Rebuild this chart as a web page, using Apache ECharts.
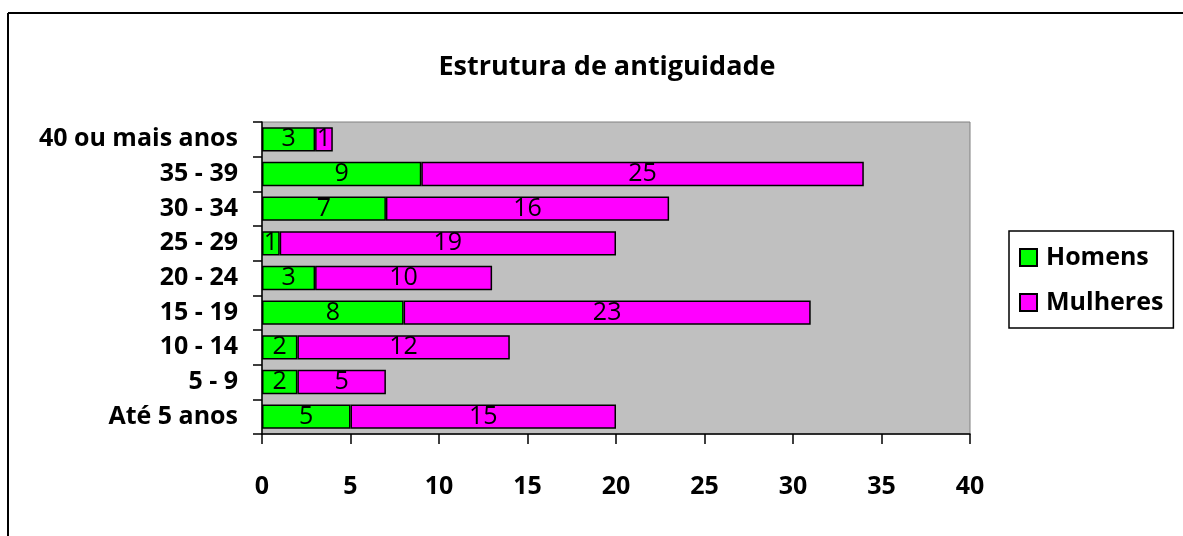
<!DOCTYPE html>
<html>
<head>
<meta charset="utf-8">
<script src="https://cdn.jsdelivr.net/npm/echarts@6/dist/echarts.min.js"></script>
<style>
    html, body { margin: 0; padding: 0; background: #fff; }
    #chart { width: 1183px; height: 536px; }
</style>
</head>
<body>
<div id="chart"></div>
<script>
    // faixas de antiguidade, de baixo para cima
    var categorias = ['Até 5 anos', '5 - 9', '10 - 14', '15 - 19', '20 - 24', '25 - 29', '30 - 34', '35 - 39', '40 ou mais anos'];
    var homens = [5, 2, 2, 8, 3, 1, 7, 9, 3];
    var mulheres = [15, 5, 12, 23, 10, 19, 16, 25, 1];
    var fonte = '"Open Sans", Lato, sans-serif';

    var myChart = echarts.init(document.getElementById('chart'));

    var rotulo = {
        show: true,
        position: 'inside',
        color: '#000',
        fontSize: 25,
        fontFamily: fonte
    };

    option = {
        animation: false,
        title: {
            text: 'Estrutura de antiguidade',
            left: 602,
            top: 49,
            textAlign: 'center',
            textStyle: { fontFamily: fonte, fontSize: 27, fontWeight: 'bold', color: '#000' }
        },
        graphic: [
            { type: 'line', shape: { x1: 8, y1: 13, x2: 1183, y2: 13 }, style: { stroke: '#000', lineWidth: 2 } },
            { type: 'line', shape: { x1: 8, y1: 13, x2: 8, y2: 536 }, style: { stroke: '#000', lineWidth: 2 } }
        ],
        legend: {
            orient: 'vertical',
            left: 1009,
            top: 231,
            padding: [14, 10, 13, 10],
            itemGap: 20,
            itemWidth: 17,
            itemHeight: 17,
            borderColor: '#000',
            borderWidth: 1.5,
            icon: 'rect',
            textStyle: { fontFamily: fonte, fontSize: 25, fontWeight: 'bold', color: '#000', padding: [0, 0, 0, 4] },
            data: ['Homens', 'Mulheres']
        },
        grid: {
            left: 262,
            right: 213,
            top: 122,
            bottom: 102,
            show: true,
            backgroundColor: '#C0C0C0',
            borderColor: '#808080',
            borderWidth: 1
        },
        xAxis: {
            type: 'value',
            min: 0,
            max: 40,
            interval: 5,
            splitLine: { show: false },
            axisLine: { show: true, lineStyle: { color: '#000', width: 1.5 } },
            axisTick: { show: true, length: 10, lineStyle: { color: '#000', width: 1.5 } },
            axisLabel: { margin: 40, color: '#000', fontFamily: fonte, fontSize: 25, fontWeight: 'bold' }
        },
        yAxis: {
            type: 'category',
            data: categorias,
            axisLine: { show: true, lineStyle: { color: '#000', width: 1.5 } },
            axisTick: { show: true, length: 9, lineStyle: { color: '#000', width: 1.5 } },
            axisLabel: { margin: 24, color: '#000', fontFamily: fonte, fontSize: 25, fontWeight: 'bold' }
        },
        series: [
            {
                name: 'Homens',
                type: 'bar',
                stack: 'total',
                barWidth: '70%',
                data: homens,
                itemStyle: { color: '#00FF00', borderColor: '#000', borderWidth: 1.5 },
                label: rotulo
            },
            {
                name: 'Mulheres',
                type: 'bar',
                stack: 'total',
                barWidth: '70%',
                data: mulheres,
                itemStyle: { color: '#FF00FF', borderColor: '#000', borderWidth: 1.5 },
                label: rotulo
            }
        ]
    };
    myChart.setOption(option);
</script>
</body>
</html>
